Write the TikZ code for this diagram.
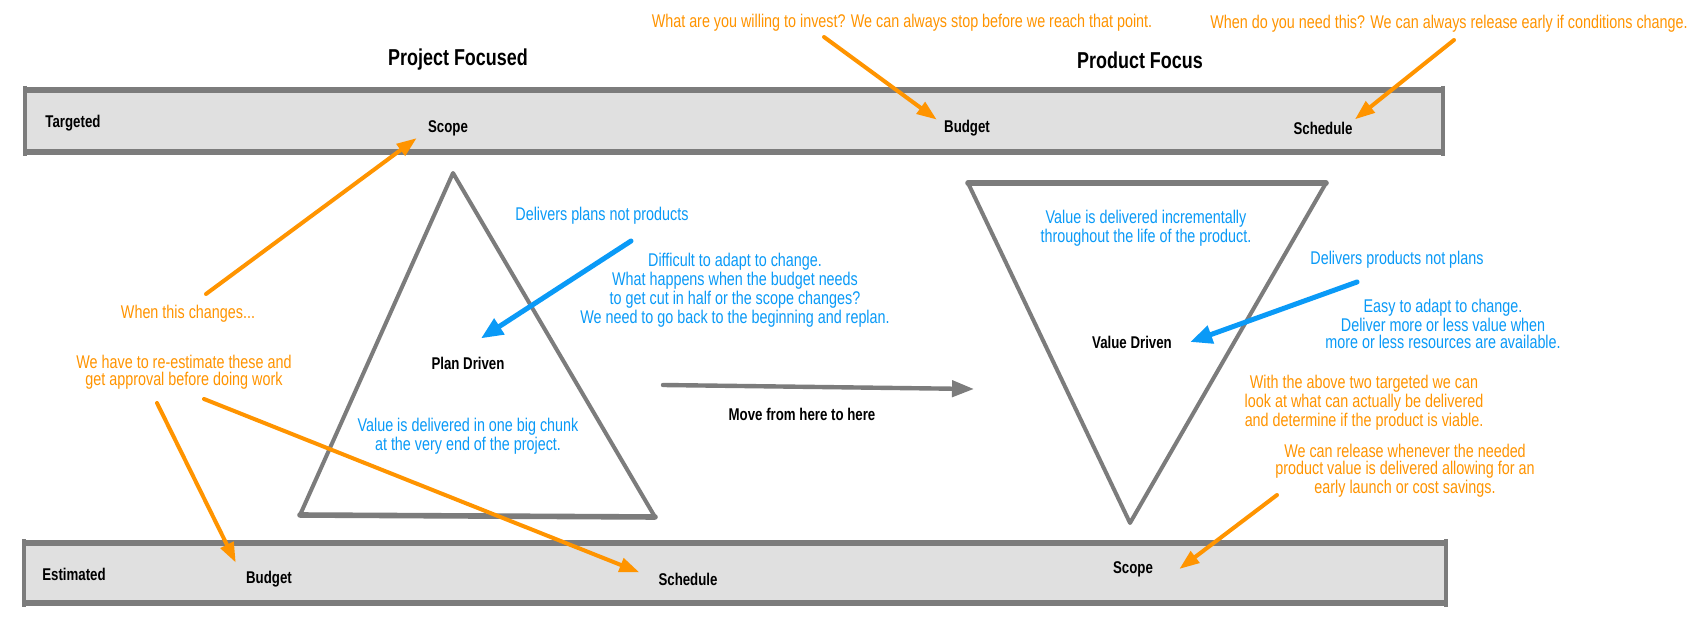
\documentclass[tikz,border=0pt]{standalone}
\usepackage{fontspec}
\setmainfont{Liberation Sans}[FakeStretch=0.78]
\usetikzlibrary{arrows.meta}

\definecolor{hint}{HTML}{FF9400}
\definecolor{tell}{HTML}{0A9AF7}
\definecolor{pen}{HTML}{7C7C7C}
\definecolor{bandfill}{HTML}{E0E0E0}

% grey band: top y, bottom y, left x, right x
\def\band#1#2#3#4{%
  \fill[bandfill] (#3,#1) rectangle (#4,#2);
  \draw[pen, line width=2.8pt] (#3-2,#1) -- (#4+1,#1) (#3-2,#2) -- (#4+1,#2);
  \draw[pen, line width=1.6pt] (#3,#1-4) -- (#3,#2+4) (#4,#1-4) -- (#4,#2+4);}

\begin{document}
\begin{tikzpicture}[x=0.5pt, y=-0.5pt,
    nodes={inner sep=1pt, align=center},
    heading/.style={font=\bfseries\fontsize{11.5}{13}\selectfont},
    tag/.style={font=\bfseries\fontsize{8.5}{10}\selectfont},
    remark/.style={text=hint, font=\fontsize{9.2}{8.4}\selectfont},
    aside/.style={text=tell, font=\fontsize{9.2}{8.4}\selectfont},
    pencil/.style={draw=pen, line width=2pt, line cap=round, line join=round},
    nudge/.style={draw=hint, line width=2pt, line cap=round, -{Triangle[length=10pt,width=7pt]}},
    pointer/.style={draw=tell, line width=2.5pt, line cap=round, -{Triangle[length=11pt,width=9pt]}},
    moveon/.style={draw=pen, line width=2.2pt, line cap=round, -{Triangle[length=11pt,width=8pt]}}]
    \path[use as bounding box, fill=white] (0,0) rectangle (1700,630);

    % bands
    \band{90}{152}{25}{1443}
    \band{543}{603}{24}{1446}

    % titles
    \node[heading] (project) at (458,60) {Project Focused};
    \node[heading] (product) at (1140,60) {Product Focus};

    % targeted band
    \node[tag] (targeted) at (73,123) {Targeted};
    \node[tag] (scopeT) at (448,128) {Scope};
    \node[tag] (budgetT) at (967,128) {Budget};
    \node[tag] (scheduleT) at (1323,128) {Schedule};

    % estimated band
    \node[tag] (estimated) at (74,574) {Estimated};
    \node[tag] (budgetE) at (269,579) {Budget};
    \node[tag] (scheduleE) at (688,579) {Schedule};
    \node[tag] (scopeE) at (1133,569) {Scope};

    % triangles
    \draw[pencil] (300,515) -- (453,173) -- (655,517);
    \draw[pencil, line width=2.8pt] (300,515) -- (655,517);
    \draw[pencil] (968,183) -- (1130,523) -- (1326,183);
    \draw[pencil, line width=2.8pt] (968,183) -- (1326,183);

    \node[tag] (planD) at (468,363) {Plan Driven};
    \node[tag] (valueD) at (1132,342) {Value Driven};
    \node[tag] (move) at (802,414) {Move from here to here};

    % orange notes
    \node[remark] (invest) at (902,23) {What are you willing to invest? We can always stop before we reach that point.};
    \node[remark] (release) at (1449,24) {When do you need this? We can always release early if conditions change.};
    \node[remark] (changes) at (188,314) {When this changes...};
    \node[remark] (redo) at (184,372) {We have to re-estimate these and\\get approval before doing work};
    \node[remark] (viable) at (1364,403) {With the above two targeted we can\\look at what can actually be delivered\\and determine if the product is viable.};
    \node[remark] (early) at (1405,471) {We can release whenever the needed\\product value is delivered allowing for an\\early launch or cost savings.};

    % blue notes
    \node[aside] (plans) at (602,216) {Delivers plans not products};
    \node[aside] (rigid) at (735,290) {Difficult to adapt to change.\\What happens when the budget needs\\to get cut in half or the scope changes?\\We need to go back to the beginning and replan.};
    \node[aside] (chunk) at (468,436) {Value is delivered in one big chunk\\at the very end of the project.};
    \node[aside] (steady) at (1146,228) {Value is delivered incrementally\\throughout the life of the product.};
    \node[aside] (products) at (1397,260) {Delivers products not plans};
    \node[aside] (easy) at (1443,324) {Easy to adapt to change.\\Deliver more or less value when\\more or less resources are available.};

    % arrows
    \coordinate (investFoot) at (824,37);
    \coordinate (releaseFoot) at (1454,40);
    \coordinate (changesFoot) at (206,294);
    \coordinate (redoFootA) at (157,403);
    \coordinate (redoFootB) at (204,399);
    \coordinate (earlyFoot) at (1277,495);
    \draw[nudge] (investFoot) -- ([xshift=-2.5pt,yshift=-1pt]budgetT.north west);
    \draw[nudge] (releaseFoot) -- (scheduleT.north east);
    \draw[nudge] (changesFoot) -- ([xshift=-4.5pt]scopeT.south west);
    \draw[nudge] (redoFootA) -- ([xshift=-4pt,yshift=3pt]budgetE.north west);
    \draw[nudge, shorten >=9pt] (redoFootB) -- (scheduleE.west);
    \draw[nudge] (earlyFoot) -- ([xshift=12pt]scopeE.east);

    \coordinate (plansFoot) at (631,241);
    \coordinate (productsFoot) at (1357,282);
    \draw[pointer] (plansFoot) -- ([xshift=6.5pt,yshift=8pt]planD.north);
    \draw[pointer] (productsFoot) -- ([xshift=8pt]valueD.east);

    \coordinate (moveFrom) at (663,385);
    \coordinate (moveTo) at (974,389);
    \draw[moveon] (moveFrom) -- (moveTo);
    %\draw[moveon] (move.north west) -- (move.north east);
\end{tikzpicture}
\end{document}
